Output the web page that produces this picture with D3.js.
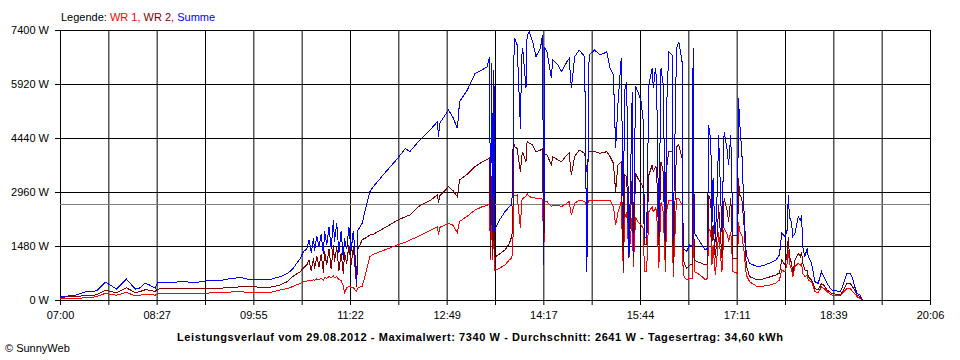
<!DOCTYPE html>
<html>
<head>
<meta charset="utf-8">
<script src="https://cdn.jsdelivr.net/npm/d3@7"></script>
<style>
  body { margin: 0; background: #fff; }
  svg { display: block; font-family: "Liberation Sans", Arial, sans-serif; font-size: 11px; }
</style>
</head>
<body>
<svg id="chart" width="960" height="360"></svg>
<script>
let times = ["07:00","07:07","07:14","07:24","07:33","07:41","07:45","07:51","08:00","08:08","08:12","08:17","08:21","08:26","08:28","08:38","08:53","09:02","09:13","09:23","09:32","09:43","09:49","10:01","10:10","10:19","10:25","10:30","10:37","10:40","10:43","10:45","10:47","10:49","10:50","10:52","10:54","10:56","10:58","10:59","11:01","11:03","11:05","11:07","11:08","11:10","11:12","11:14","11:16","11:17","11:19","11:21","11:23","11:25","11:26","11:28","11:29","11:33","11:36","11:40","11:43","11:54","12:05","12:12","12:16","12:25","12:34","12:41","12:42","12:43","12:51","12:55","12:59","13:00","13:01","13:08","13:15","13:21","13:26","13:28","13:29","13:30","13:31","13:32","13:33","13:34","13:37","13:42","13:46","13:48","13:49","13:50","13:51","13:53","13:56","13:57","13:58","14:01","14:02","14:04","14:07","14:10","14:14","14:16","14:17","14:18","14:20","14:24","14:25","14:30","14:33","14:38","14:40","14:42","14:45","14:49","14:54","14:56","14:58","15:03","15:08","15:14","15:17","15:20","15:22","15:24","15:27","15:29","15:30","15:32","15:34","15:37","15:38","15:40","15:42","15:45","15:47","15:48","15:50","15:52","15:55","15:56","15:58","15:59","16:01","16:03","16:05","16:07","16:08","16:10","16:13","16:14","16:17","16:19","16:22","16:23","16:26","16:29","16:31","16:32","16:33","16:36","16:40","16:43","16:45","16:46","16:48","16:49","16:50","16:52","16:54","16:55","16:58","17:00","17:03","17:04","17:06","17:08","17:12","17:13","17:14","17:16","17:18","17:20","17:23","17:30","17:35","17:41","17:47","17:50","17:52","17:55","17:57","17:58","17:59","18:01","18:02","18:04","18:07","18:09","18:10","18:11","18:13","18:15","18:16","18:19","18:22","18:25","18:28","18:30","18:33","18:37","18:45","18:47","18:51","18:54","18:56","18:58","19:00","19:03","19:05"]

let summe = [90,110,130,230,250,485,420,300,575,300,330,460,410,320,475,485,500,475,530,520,575,620,575,570,565,640,720,840,1140,1330,1400,1650,1300,1700,1350,1750,1450,1800,1250,1900,1500,2000,1400,2200,1600,2100,1300,1900,1100,1700,1400,2000,1350,1900,1500,470,1900,2100,2500,2970,3105,3500,3880,4155,4065,4385,4650,4890,4460,4840,5210,5005,4705,5070,5435,5755,6210,6300,6395,6670,1900,6500,1900,6300,1870,2010,2190,2420,2560,2600,3150,6620,7170,6990,4700,6630,6910,5810,7260,7340,7080,6670,6900,7260,960,6900,6800,6075,6580,6440,6260,6530,6620,5800,6670,6850,6670,775,6715,6850,6715,6800,6350,6165,4155,5345,6620,2055,5710,5985,1150,5710,1325,5850,5710,5435,4890,1710,1710,5890,6350,5800,6360,5985,1870,6350,5890,1710,5260,6800,6715,1710,6900,7080,6530,1415,1325,1510,1480,6900,1850,1700,1510,1370,1420,4800,4340,2055,3340,1600,3150,4520,1870,4610,4065,3700,4520,1780,1780,5525,4890,4065,2420,1235,1005,915,940,1010,1100,1235,1830,1735,1920,2880,2280,2110,1735,1830,2280,2190,2330,1460,1190,1415,1190,1005,500,455,775,640,455,275,230,365,730,730,595,365,183,137,0]

let wr2 = [70,90,100,120,140,265,240,200,335,200,230,280,270,230,300,310,320,305,315,320,340,360,360,355,350,410,500,640,775,880,960,1100,800,1150,850,1200,900,1250,750,1350,950,1400,850,1500,1050,1450,800,1300,700,1300,1000,1500,950,1450,1100,370,1370,1650,1700,1780,1800,1990,2190,2280,2330,2585,2720,2880,2650,2850,3105,3000,2830,3050,3290,3450,3655,3780,3850,3900,1150,3400,1200,3240,1190,1200,1260,1370,1550,1735,1900,4290,4200,4155,3515,3900,4065,3790,4340,4300,4250,4065,4110,4150,960,4000,3975,3700,3930,3840,3790,3975,4020,3425,3930,4110,4020,3500,4065,4065,4020,4065,3930,3745,2970,3700,3790,820,3425,3380,1235,3425,1140,3470,3335,3200,3060,1510,1510,3425,3700,3515,3655,3600,1510,3790,3515,1140,3610,4065,4065,960,4200,4250,3880,1095,870,960,960,4000,1095,1050,1005,960,1000,2880,2695,1600,2055,1140,1870,2600,1140,2785,2420,2145,2785,1140,1140,3335,2880,2785,2055,960,640,550,575,630,690,740,1095,960,1280,1735,1190,1005,730,1095,1280,1190,1325,1005,820,820,640,550,320,275,455,410,275,183,137,230,455,455,365,275,137,90,0]

let wr1 = [35,40,45,60,90,185,160,130,210,110,130,160,160,130,170,175,183,180,190,200,215,230,210,215,210,275,310,365,455,500,520,540,520,560,540,580,560,600,540,610,600,640,620,660,620,640,560,540,380,190,330,370,350,330,300,230,330,380,700,1190,1250,1380,1510,1580,1640,1760,1900,2010,1780,1990,2100,2050,1845,2020,2150,2300,2465,2550,2600,2640,1100,2500,1100,2600,820,830,870,960,1100,1150,1285,2880,2850,2880,1970,2700,2780,2850,2920,2830,2810,2790,2785,2760,1150,2700,2695,2560,2600,2600,2560,2650,2700,2330,2650,2740,2700,2550,2740,2740,2740,2740,2740,2560,2055,2385,2695,730,2240,2420,1140,2330,910,2280,2145,2050,1965,775,775,2420,2560,2420,2510,2450,870,2695,2420,775,2420,2740,2740,640,2785,2785,2600,685,550,595,600,2700,775,730,640,550,595,1965,1870,960,1510,685,1325,1870,775,1965,1780,1600,1870,775,730,2145,1870,1780,1325,685,500,365,380,410,470,550,820,775,1005,1370,1005,820,640,915,1005,960,1005,730,640,685,550,500,230,200,365,320,230,137,110,183,320,320,230,183,90,45,0]

let yTicks = [0, 1480, 2960, 4440, 5920, 7400]
let xLabels = ["07:00","08:27","09:55","11:22","12:49","14:17","15:44","17:11","18:39","20:06"]
let average = 2641

let legendParts = [["Legende: ", "#000000"], ["WR 1, ", "#ff0000"], ["WR 2, ", "#800000"], ["Summe", "#0000ff"]]
let titleText = "Leistungsverlauf vom 29.08.2012 - Maximalwert: 7340 W - Durchschnitt: 2641 W - Tagesertrag: 34,60 kWh"
let creditText = "\u00a9 SunnyWeb"

let parseTime = d3.timeParse("%H:%M")
let svg = d3.select("#chart")

let plotLeft = 60, plotRight = 930, plotTop = 30, plotBottom = 300

let tStart = parseTime(xLabels[0])
let tEnd = parseTime(xLabels[xLabels.length - 1])

let x = d3.scaleTime().domain([tStart, tEnd]).range([plotLeft, plotRight])
let y = d3.scaleLinear().domain([0, 7400]).range([plotBottom, plotTop])

// 18 Abschnitte, jede zweite Linie beschriftet
let gridTimes = d3.range(19).map((k) => new Date(+tStart + k * (tEnd - tStart) / 18))

svg.append("rect").attr("width", 960).attr("height", 360).attr("fill", "#fff")

// Gitter
svg.append("g")
    .attr("transform", "translate(0," + plotBottom + ")")
    .call(d3.axisBottom(x).tickValues(gridTimes).tickSize(-(plotBottom - plotTop)).tickFormat(""))
    .call(g => g.select(".domain").remove())
    .selectAll("line").attr("stroke", "#000")

svg.append("g")
    .attr("transform", "translate(" + plotLeft + ",0)")
    .call(d3.axisLeft(y).tickValues(yTicks).tickSize(-(plotRight - plotLeft)).tickFormat(""))
    .call(g => g.select(".domain").remove())
    .selectAll("line").attr("stroke", "#000")

// Achsen
let xAxis = svg.append("g")
    .attr("transform", "translate(0," + plotBottom + ")")
    .call(d3.axisBottom(x).tickValues(gridTimes).tickSizeInner(5).tickSizeOuter(0).tickPadding(6)
        .tickFormat((d, i) => i % 2 === 0 ? xLabels[i / 2] : ""))
xAxis.select(".domain").attr("stroke", "#000")
xAxis.selectAll("line").attr("stroke", "#000")
xAxis.selectAll("text").attr("fill", "#000").style("font-size", "11px")
    .style("font-family", "'Liberation Sans', Arial, sans-serif")

let yAxis = svg.append("g")
    .attr("transform", "translate(" + plotLeft + ",0)")
    .call(d3.axisLeft(y).tickValues(yTicks).tickSizeInner(5).tickSizeOuter(0).tickPadding(6)
        .tickFormat((d) => d + " W"))
yAxis.select(".domain").attr("stroke", "#000")
yAxis.selectAll("line").attr("stroke", "#000")
yAxis.selectAll("text").attr("fill", "#000").style("font-size", "11px")
    .style("font-family", "'Liberation Sans', Arial, sans-serif")

// Durchschnittslinie
let avgY = Math.round(y(average)) + 0.5
svg.append("line")
    .attr("x1", plotLeft).attr("x2", plotRight)
    .attr("y1", avgY).attr("y2", avgY)
    .attr("stroke", "#808080")

// Kurven
let rows = times.map((t, i) => ({ t: parseTime(t), wr1: wr1[i], wr2: wr2[i], summe: summe[i] }))

let series = [["wr1", "#ff0000"], ["wr2", "#800000"], ["summe", "#0000ff"]]
series.forEach(([key, color]) => {
    let line = d3.line()
        .x((d) => x(d.t))
        .y((d) => y(d[key]))
    svg.append("path")
        .datum(rows)
        .attr("d", line)
        .attr("fill", "none")
        .attr("stroke", color)
        .attr("stroke-width", 1)
        .attr("shape-rendering", "crispEdges")
})

// Legende
let legend = svg.append("text").attr("x", 61).attr("y", 21)
legend.selectAll("tspan")
    .data(legendParts)
    .enter()
    .append("tspan")
    .attr("fill", (d) => d[1])
    .style("white-space", "pre")
    .text((d) => d[0])

// Titel unten (Originalschrift ist breiter)
svg.append("text")
    .attr("x", 177).attr("y", 341)
    .attr("font-weight", "bold")
    .attr("fill", "#000")
    .attr("textLength", 606)
    .attr("lengthAdjust", "spacing")
    .text(titleText)

svg.append("text")
    .attr("x", 5).attr("y", 352)
    .attr("fill", "#000")
    .text(creditText)
</script>
</body>
</html>
